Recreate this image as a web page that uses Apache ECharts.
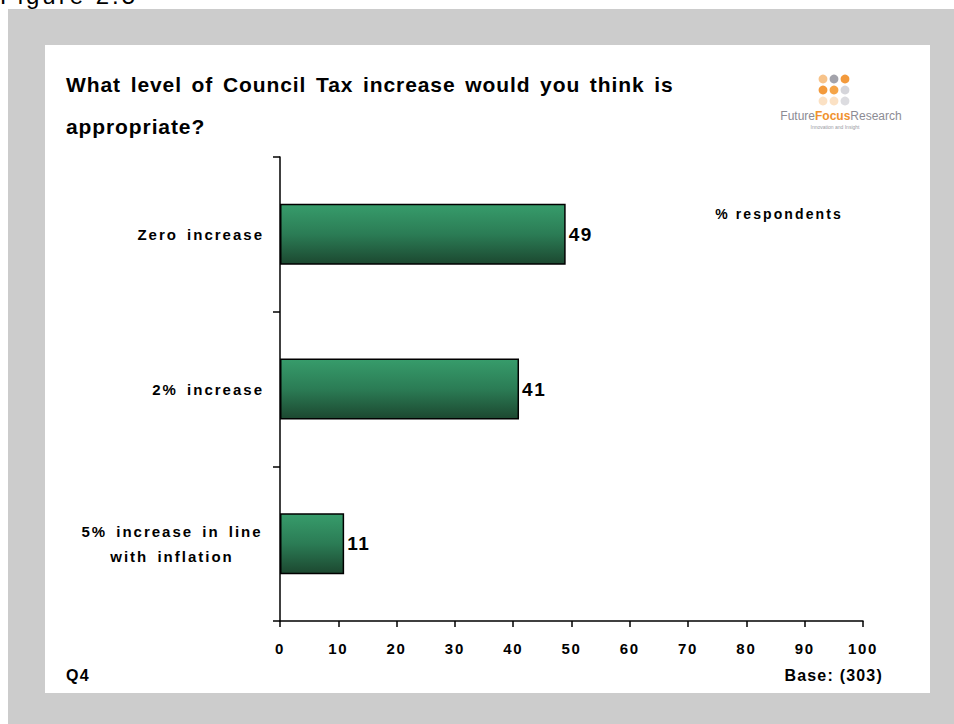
<!DOCTYPE html>
<html>
<head>
<meta charset="utf-8">
<script src="https://cdn.jsdelivr.net/npm/echarts@6/dist/echarts.min.js"></script>
<style>
  html, body { margin: 0; padding: 0; background: #ffffff; }
  #chart { width: 954px; height: 724px; }
</style>
</head>
<body>
<div id="chart"></div>
<script>
// Survey answers: share of respondents choosing each Council Tax option
const categories = ['Zero increase', '2% increase', '5% increase in line\nwith inflation'];
const percentValues = [49, 41, 11];
const chartTitle = 'What level of Council Tax increase would you think is\nappropriate?';
const unitNote = '% respondents';
const questionRef = 'Q4';
const baseNote = 'Base: (303)';
const figureCaption = 'Figure 2.5';

const FONT = 'Arial, "Liberation Sans", sans-serif';

const chart = echarts.init(document.getElementById('chart'), null, { renderer: 'svg' });

// Logo dot grid colours (row by row)
const dotColors = [
  ['#f7c38a', '#a3a3ab', '#f39a3c'],
  ['#f39a3c', '#f5a447', '#d5d5da'],
  ['#fbe1c4', '#fbe1c4', '#dcdce0']
];
const logoDots = [];
dotColors.forEach((row, r) => row.forEach((c, k) => {
  logoDots.push({
    type: 'circle',
    shape: { cx: 823 + k * 11, cy: 79 + r * 11, r: 4.4 },
    style: { fill: c }
  });
}));

// The wrapped category label keeps its lines centred under each other
const yAxisData = categories.map(c => c.indexOf('\n') >= 0
  ? { value: c, textStyle: { align: 'center', padding: [0, 184, 0, 0], lineHeight: 25 } }
  : c);

const option = {
  animation: false,
  backgroundColor: '#ffffff',
  graphic: [
    { type: 'rect', z: -10, shape: { x: 8, y: 9, width: 946, height: 715 }, style: { fill: '#cccccc' } },
    { type: 'rect', z: -9, shape: { x: 45, y: 45, width: 885, height: 648 }, style: { fill: '#ffffff' } },
    { type: 'text', x: 0, y: -5, style: { text: figureCaption, font: '24px ' + FONT, fill: '#000', textVerticalAlign: 'middle' } },
    ...logoDots,
    { type: 'text', x: 841, y: 116, style: {
        text: '{a|Future}{b|Focus}{a|Research}', textAlign: 'center', textVerticalAlign: 'middle',
        rich: {
          a: { font: '12px ' + FONT, fill: '#8c8c94' },
          b: { font: 'bold 12px ' + FONT, fill: '#f0922e' }
        }
    } },
    { type: 'text', x: 835, y: 127, style: { text: 'Innovation and Insight', font: '5px ' + FONT, fill: '#9a9aa2', textAlign: 'center', textVerticalAlign: 'middle' } },
    { type: 'text', x: 779, y: 214, style: { text: unitNote, font: 'bold 14px ' + FONT, fill: '#000', textAlign: 'center', textVerticalAlign: 'middle' } },
    { type: 'text', x: 66, y: 675, style: { text: questionRef, font: 'bold 16px ' + FONT, fill: '#000', textVerticalAlign: 'middle' } },
    { type: 'text', x: 883, y: 675, style: { text: baseNote, font: 'bold 16px ' + FONT, fill: '#000', textAlign: 'right', textVerticalAlign: 'middle' } }
  ],
  title: {
    text: chartTitle,
    left: 66,
    top: 63,
    padding: 0,
    textStyle: { fontFamily: FONT, fontWeight: 'bold', fontSize: 21, color: '#000', lineHeight: 42 }
  },
  grid: { left: 280, right: 91, top: 157, bottom: 103, containLabel: false },
  xAxis: {
    type: 'value',
    min: 0, max: 100, interval: 10,
    axisLine: { show: true, lineStyle: { color: '#000', width: 1.5 } },
    axisTick: { show: true, length: 6, lineStyle: { color: '#000', width: 1.5 } },
    splitLine: { show: false },
    axisLabel: { margin: 20, color: '#000', fontFamily: FONT, fontWeight: 'bold', fontSize: 15 }
  },
  yAxis: {
    type: 'category',
    inverse: true,
    data: yAxisData,
    axisLine: { show: true, lineStyle: { color: '#000', width: 1.5 } },
    axisTick: { show: true, length: 7, alignWithLabel: false, lineStyle: { color: '#000', width: 1.5 } },
    axisLabel: { margin: 16, color: '#000', fontFamily: FONT, fontWeight: 'bold', fontSize: 15, lineHeight: 25 }
  },
  series: [{
    type: 'bar',
    data: percentValues,
    barWidth: 61,
    itemStyle: {
      color: new echarts.graphic.LinearGradient(0, 0, 0, 1, [
        { offset: 0, color: '#379c6b' },
        { offset: 0.5, color: '#2b7c55' },
        { offset: 1, color: '#1c4830' }
      ]),
      borderColor: '#000',
      borderWidth: 1.5
    },
    label: {
      show: true, position: 'right', distance: 3,
      color: '#000', fontFamily: FONT, fontWeight: 'bold', fontSize: 19
    }
  }]
};

chart.setOption(option);

// Printed tracking of the texts, per size and kind of text (letter, word)
function applyLetterSpacing() {
  document.querySelectorAll('#chart svg text').forEach(t => {
    const fs = parseFloat(getComputedStyle(t).fontSize) || 12;
    const txt = (t.textContent || '').trim();
    let sp = 0, ws = 0;
    if (/^\d+$/.test(txt)) sp = fs >= 17 ? 1.6 : 1.7;
    else if (fs >= 23) sp = 3;
    else if (fs >= 20) { sp = 0.9; ws = 3; }
    else if (fs >= 15.5) sp = 1.2;
    else if (fs >= 14.5) { sp = 2.0; ws = 3; }
    else if (fs >= 13.5) sp = 2.1;
    t.style.letterSpacing = sp + 'px';
    t.style.wordSpacing = ws + 'px';
  });
}
applyLetterSpacing();
chart.on('finished', applyLetterSpacing);
setTimeout(applyLetterSpacing, 50);
</script>
</body>
</html>
